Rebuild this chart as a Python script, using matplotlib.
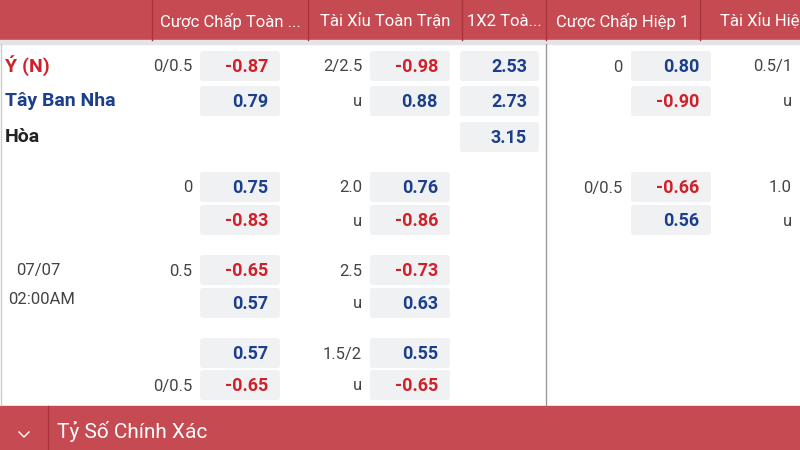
import matplotlib
matplotlib.use("Agg")
import matplotlib.pyplot as plt
from matplotlib.patches import Rectangle, FancyBboxPatch

headers = ["Cược Chấp Toàn ...", "Tài Xỉu Toàn Trận", "1X2 Toà...", "Cược Chấp Hiệp 1", "Tài Xỉu Hiệ"]
teams = ["Ý (N)", "Tây Ban Nha", "Hòa"]
team_colors = ["#d0202a", "#1c3f8c", "#222222"]
date_text = ["07/07", "02:00AM"]
footer = "Tỷ Số Chính Xác"

row_y = [66, 101, 137, 187, 220, 270, 303, 353, 385]
hdp_lbl = ["0/0.5", "", None, "0", "", "0.5", "", "", "0/0.5"]
hdp_odd = [-0.87, 0.79, None, 0.75, -0.83, -0.65, 0.57, 0.57, -0.65]
ou_lbl = ["2/2.5", "u", None, "2.0", "u", "2.5", "u", "1.5/2", "u"]
ou_odd = [-0.98, 0.88, None, 0.76, -0.86, -0.73, 0.63, 0.55, -0.65]
x12_odd = [2.53, 2.73, 3.15, None, None, None, None, None, None]
h1_lbl = ["0", "", None, "0/0.5", "", None, None, None, None]
h1_odd = [0.80, -0.90, None, -0.66, 0.56, None, None, None, None]
h1ou_lbl = ["0.5/1", "u", None, "1.0", "u", None, None, None, None]

RED, BLUE, GRAY = "#d0202a", "#1c3f8c", "#444444"
FONT = "Roboto"

fig = plt.figure(figsize=(8, 4.5), dpi=100)
ax = fig.add_axes([0, 0, 1, 1])
ax.set_xlim(0, 800); ax.set_ylim(450, 0); ax.axis("off")

hdr = "#c64a52"
ax.add_patch(Rectangle((0, 0), 800, 40, color=hdr))
ax.add_patch(Rectangle((0, 40), 800, 4, color="#e4e4e6"))
for x in [152, 308, 462, 546, 700]:
    ax.plot([x, x], [0, 40], color="#a8343c", lw=1)
hcent = [230, 385, 504, 623, 760]
for h, c in zip(headers, hcent):
    ax.text(c, 21, h, color="white", fontsize=12, ha="center", va="center", family=FONT)
ax.plot([546, 546], [44, 405], color="#999999", lw=1)
ax.plot([0.5, 0.5], [44, 405], color="#cccccc", lw=1)

ax.add_patch(Rectangle((0, 406), 800, 44, color=hdr))
ax.plot([48, 48], [406, 450], color="#a8343c", lw=1)
ax.plot([19, 24, 29], [432, 437, 432], color="white", lw=1)
ax.text(57, 431, footer, color="white", fontsize=15, ha="left", va="center", family=FONT)

for i, t in enumerate(teams):
    ax.text(5, row_y[i], t, color=team_colors[i], fontsize=14, fontweight="bold", ha="left", va="center", family=FONT)
ax.text(38, 270, date_text[0], color=GRAY, fontsize=12, ha="center", va="center", family=FONT)
ax.text(42, 300, date_text[1], color=GRAY, fontsize=12, ha="center", va="center", family=FONT)

def box(x0, x1, y, val):
    ax.add_patch(FancyBboxPatch((x0 + 3, y - 12), x1 - x0 - 6, 24,
                                boxstyle="round,pad=3", fc="#f0f1f3", ec="none"))
    col = RED if val < 0 else BLUE
    ax.text(x1 - 12, y + 1, f"{val:.2f}", color=col, fontsize=13, fontweight="bold",
            ha="right", va="center", family=FONT)

def lbl(x, y, s):
    if s:
        ax.text(x, y + 1, s, color=GRAY, fontsize=12, ha="right", va="center", family=FONT)

for i, y in enumerate(row_y):
    if hdp_odd[i] is not None:
        box(200, 280, y, hdp_odd[i]); lbl(192, y, hdp_lbl[i])
    if ou_odd[i] is not None:
        box(370, 450, y, ou_odd[i]); lbl(362, y, ou_lbl[i])
    if x12_odd[i] is not None:
        box(460, 539, y, x12_odd[i])
    if h1_odd[i] is not None:
        box(631, 711, y, h1_odd[i]); lbl(622, y, h1_lbl[i])
    if h1ou_lbl[i]:
        lbl(792, y, h1ou_lbl[i])

fig.savefig("out.png", dpi=100)
